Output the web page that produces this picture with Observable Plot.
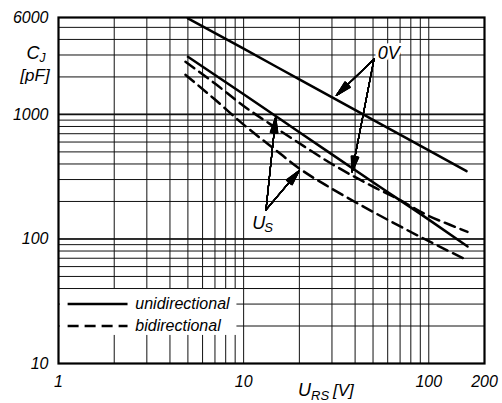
<!DOCTYPE html>
<html><head><meta charset="utf-8">
<script src="https://cdn.jsdelivr.net/npm/d3@7"></script>
<script src="https://cdn.jsdelivr.net/npm/@observablehq/plot@0.6"></script>
<style>body{margin:0;background:#fff;} svg{display:block}</style>
</head><body><div id="chart"></div>
<script>
// ---- tick labels and grid values ----
const xTicks = [1, 10, 100, 200];
const yTicks = [10, 100, 1000, 6000];
const xGrid = [2,3,4,5,6,7,8,9,10,20,30,40,50,60,70,80,90,100];
const yGrid = [20,30,40,50,60,70,80,90,100,200,300,400,500,600,700,800,900,1000,2000,3000,4000,5000];
const yGridBold = [100, 1000];

// ---- curves (U_RS in V, C_J in pF) ----
const uni0V_V = [5, 10, 20, 50, 100, 160];
const uni0V_C = [5900, 3370, 1910, 905, 515, 350];
const uniUS_V = [5, 10, 20, 50, 100, 162];
const uniUS_C = [2900, 1450, 720, 285, 143, 87];
const biUpper_V = [4.85, 7, 10, 15, 20, 30, 50, 70, 100, 130, 162];
const biUpper_C = [2650, 1770, 1170, 776, 586, 400, 263, 205, 153, 130, 114];
const biLower_V = [4.85, 7, 10, 15, 20, 30, 50, 100, 155];
const biLower_C = [2080, 1316, 828, 513, 368, 253, 165, 96, 69.5];

// ---- legend ----
const legendLabels = ["unidirectional", "bidirectional"];
const legendDash = [null, "11,6"];
const legendY = [30, 20];
const legendX1 = 1.12, legendX2 = 2.36, legendTextX = 2.6;
const legendBox = {x1: 1.025, x2: 9.2, y1: 16.8, y2: 40};

// ---- annotations ----
const arrowFromV = [50.6, 50.6, 13.2, 13.2];
const arrowFromC = [2780, 2780, 171, 171];
const arrowToV = [31.7, 38.5, 14.9, 20];
const arrowToC = [1420, 345, 950, 355];
const label0V = {v: 60.8, c: 3100, text: "0V"};
const labelUS = {v: 12.05, c: 134, text: "U", sub: "S"};

const rows = (vs, cs) => vs.map((v, i) => ({v, c: cs[i]}));
const arrows = arrowFromV.map((v, i) => ({x1: v, y1: arrowFromC[i], x2: arrowToV[i], y2: arrowToC[i]}));
const legendRows = legendLabels.map((t, i) => ({t, y: legendY[i], dash: legendDash[i]}));
const headAngles = d3.range(2, 30, 2);

const curveStyle = {x: "v", y: "c", stroke: "black", strokeWidth: 2.5, curve: "monotone-x"};

const svg = Plot.plot({
  width: 502, height: 403,
  marginLeft: 58, marginRight: 18, marginTop: 17, marginBottom: 40,
  style: {fontFamily: "Liberation Sans, Arial, sans-serif", fontSize: "16px", fontStyle: "italic", background: "#fff", color: "black", overflow: "visible"},
  x: {type: "log", domain: [1, 200], ticks: xTicks, tickFormat: d => String(d), tickSize: 0, tickPadding: 12, label: null},
  y: {type: "log", domain: [10, 6000], axis: null},
  marks: [
    Plot.ruleX(xGrid, {stroke: "#111", strokeWidth: 1}),
    Plot.ruleY(yGrid, {stroke: "#111", strokeWidth: 1}),
    Plot.ruleY(yGridBold, {stroke: "#111", strokeWidth: 1.6}),
    Plot.rect([legendBox], {x1: "x1", x2: "x2", y1: "y1", y2: "y2", fill: "white"}),
    Plot.ruleY([legendBox.y2], {stroke: "#111", strokeWidth: 1}),
    Plot.line(rows(uni0V_V, uni0V_C), curveStyle),
    Plot.line(rows(uniUS_V, uniUS_C), curveStyle),
    Plot.line(rows(biUpper_V, biUpper_C), {...curveStyle, strokeDasharray: "11,6"}),
    Plot.line(rows(biLower_V, biLower_C), {...curveStyle, strokeDasharray: "11,6"}),
    Plot.link(legendRows.filter(d => !d.dash), {x1: () => legendX1, x2: () => legendX2, y1: "y", y2: "y", stroke: "black", strokeWidth: 2.5}),
    Plot.link(legendRows.filter(d => d.dash), {x1: () => legendX1, x2: () => legendX2, y1: "y", y2: "y", stroke: "black", strokeWidth: 2.5, strokeDasharray: "11,6"}),
    Plot.text(legendRows, {x: () => legendTextX, y: "y", text: "t", textAnchor: "start", fontSize: 16, fontStyle: "italic", fill: "black"}),
    ...headAngles.map(a => Plot.arrow(arrows, {x1: "x1", y1: "y1", x2: "x2", y2: "y2", stroke: "black", strokeWidth: 1.2, headAngle: a, headLength: 20})),
    Plot.text([label0V], {x: "v", y: "c", text: "text", fontSize: 18, fontStyle: "italic", fill: "black", stroke: "white", strokeWidth: 6, paintOrder: "stroke"}),
    Plot.text([labelUS], {x: "v", y: "c", text: "text", fontSize: 18, fontStyle: "italic", fill: "black"}),
    Plot.text([labelUS], {x: "v", y: "c", text: "sub", fontSize: 13, fontStyle: "italic", fill: "black", dx: 10, dy: 5}),
    // y tick labels through the y scale
    Plot.text(yTicks, {x: () => 1, y: d => d, text: d => String(d), textAnchor: "end", dx: -10, fontSize: 16, fontStyle: "italic", fill: "black"}),
    Plot.frame({stroke: "black", strokeWidth: 2.2})
  ]
});

// axis titles with subscripts
const s = d3.select(svg);
const t1 = s.append("text").attr("x", 36).attr("y", 59).attr("text-anchor", "middle")
  .attr("font-size", 18).attr("font-style", "italic").attr("fill", "black");
t1.append("tspan").text("C");
t1.append("tspan").attr("font-size", 12).attr("dy", 3).text("J");
s.append("text").attr("x", 35).attr("y", 81).attr("text-anchor", "middle")
  .attr("font-size", 17).attr("font-style", "italic").attr("fill", "black").text("[pF]");
const t2 = s.append("text").attr("x", 298).attr("y", 396).attr("text-anchor", "start")
  .attr("font-size", 18).attr("font-style", "italic").attr("fill", "black");
t2.append("tspan").text("U");
t2.append("tspan").attr("font-size", 13).attr("dy", 4).text("RS");
t2.append("tspan").attr("font-size", 17).attr("dy", -4).attr("dx", 4).text("[V]");

document.getElementById("chart").appendChild(svg);
</script>
</body></html>
